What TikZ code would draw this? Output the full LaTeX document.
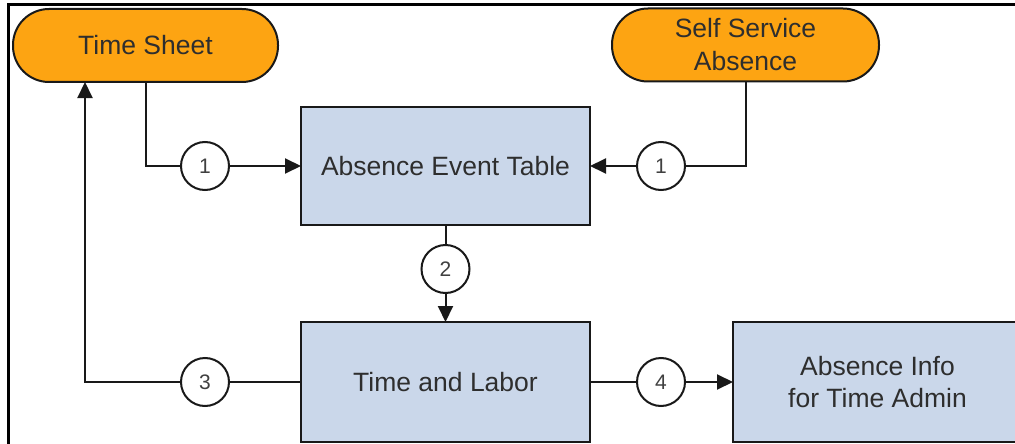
\documentclass[tikz,border=0pt]{standalone}
\usepackage{fontspec}
\setmainfont{Liberation Sans}
\usetikzlibrary{arrows.meta}
\definecolor{orangefill}{HTML}{FDA412}
\definecolor{bluefill}{HTML}{CAD7EA}
\definecolor{txt}{HTML}{2E2E2E}
\begin{document}
\begin{tikzpicture}[x=1pt,y=-1pt,
  every node/.style={inner sep=0pt,outer sep=0pt},
  startbox/.style={draw=black!90,line width=2pt,fill=orangefill,rectangle,rounded corners=36pt,
    minimum height=73pt,align=center,text=txt,font=\fontsize{26.5}{33}\selectfont},
  procbox/.style={draw=black!90,line width=2pt,fill=bluefill,rectangle,
    minimum width=289pt,align=center,text=txt,font=\fontsize{26.5}{32}\selectfont},
  stepnum/.style={draw=black!90,line width=2pt,fill=white,circle,minimum size=48pt,
    text=black!75,font=\fontsize{21}{21}\selectfont},
  conn/.style={line width=2pt,draw=black!90},
  arr/.style={conn,-{Triangle[length=16pt,width=15pt]}}]
\clip (0,0) rectangle (1015,444);
% frame
\draw[line width=3pt] (8,444) -- (8,5) -- (1015,5);
% nodes
\node[startbox,minimum width=265pt] (ts) at (145.5,45.5) {Time Sheet};
\node[startbox,minimum width=267pt] (ssa) at (745.5,45) {Self Service\\Absence};
\node[procbox,minimum height=118pt] (aet) at (445.5,166) {Absence Event Table};
\node[procbox,minimum height=120pt] (tl) at (445.5,382) {Time and Labor};
\node[procbox,minimum height=120pt] (ai) at (877.5,382) {Absence Info\\for Time Admin};
\node[stepnum] (c1a) at (205,166) {1};
\node[stepnum] (c1b) at (661,166) {1};
\node[stepnum] (c2) at (445.5,269) {2};
\node[stepnum] (c3) at (205,382) {3};
\node[stepnum] (c4) at (661,382) {4};
\coordinate (tsx) at (85,0);
% connectors
\draw[conn] (ts.south) |- (c1a.west);
\draw[arr] (c1a.east) -- (aet.west);
\draw[conn] (ssa.south) |- (c1b.east);
\draw[arr] (c1b.west) -- (aet.east);
\draw[conn] (aet.south) -- (c2.north);
\draw[arr] (c2.south) -- (tl.north);
\draw[conn] (tl.west) -- (c3.east);
\draw[arr] (c3.west) -| (tsx |- ts.south);
\draw[conn] (tl.east) -- (c4.west);
\draw[arr] (c4.east) -- (ai.west);
\end{tikzpicture}
\end{document}
